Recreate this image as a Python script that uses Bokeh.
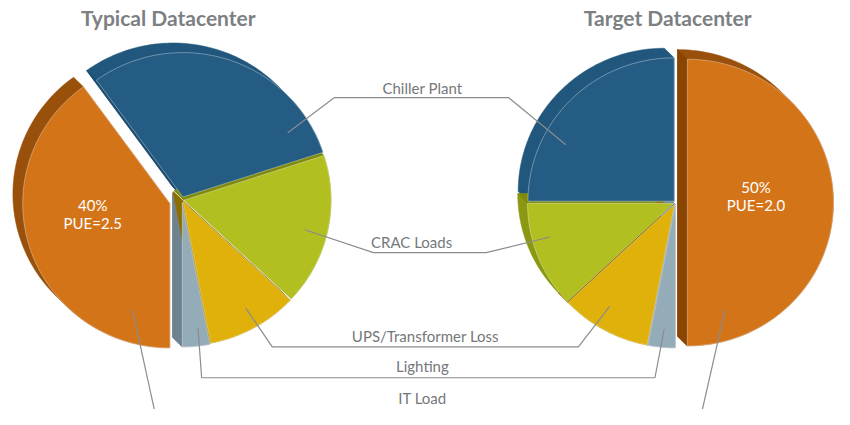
import math
import numpy as np
from bokeh.plotting import figure
from bokeh.models import Range1d
from bokeh.embed import file_html
from bokeh.resources import INLINE
from bokeh.core.properties import value

# ---------------- data ----------------
categories = ["Chiller Plant", "CRAC Loads", "UPS/Transformer Loss", "Lighting", "IT Load"]
typical_share = [30, 17, 10, 3, 40]   # percent
target_share = [25, 12, 10, 3, 50]    # percent
pie_titles = ["Typical Datacenter", "Target Datacenter"]

# ---------------- style / layout ----------------
front_colors = ["#255C83", "#B1BF21", "#E0B10B", "#94ABB8", "#D47419"]
rim_colors   = ["#21577C", "#8C9812", "#A58400", "#7C919E", "#98500A"]
side_colors  = ["#1C4C6E", "#7E8A0D", "#8C6D00", "#6E8390", "#8A4500"]
DEPTH = (-10.0, -10.0)          # projection of slice thickness (screen px)
FONT = "Lato"
TEXT_GREY = "#75787B"
LINE_GREY = "#8A8C8F"

pies = [
    dict(shares=typical_share, cx=185, cy=207, r=150, start=126, direction=-1,
         explode=[3, 2, 2, 3, 13], title_xy=(171, 18), pct_xy=(94, 212),
         anchors=[(32, 126), (-14, 127), (-60, 128), (-83, 131), (251, 117)]),
    dict(shares=target_share, cx=688, cy=210, r=149, start=90, direction=1,
         explode=[2, 2, 2, 2, 12], title_xy=(680, 18), pct_xy=(770, 194),
         anchors=[(152, 125), (195.5, 131), (238, 125), (265, 130), (-71, 118)]),
]
# label positions and leader elbows (left elbow, right elbow)
label_xy = [(430, 91), (419, 251), (433, 349), (430, 380), (430, 413)]
elbows = [[(340, 101), (518, 101)], [(380, 262), (495, 262)],
          [(277, 360), (589, 360)], [(205, 392), (667, 392)], None]
it_tail = [(160, 440), (712, 440)]


def pt(ax, ay, r, a_deg):
    a = math.radians(a_deg)
    return (ax + r * math.cos(a), ay - r * math.sin(a))


def hull(points):
    pts = sorted(set((round(x, 3), round(y, 3)) for x, y in points))
    if len(pts) <= 2:
        return pts

    def cross(o, a, b):
        return (a[0] - o[0]) * (b[1] - o[1]) - (a[1] - o[1]) * (b[0] - o[0])
    lower, upper = [], []
    for p_ in pts:
        while len(lower) >= 2 and cross(lower[-2], lower[-1], p_) <= 0:
            lower.pop()
        lower.append(p_)
    for p_ in reversed(pts):
        while len(upper) >= 2 and cross(upper[-2], upper[-1], p_) <= 0:
            upper.pop()
        upper.append(p_)
    return lower[:-1] + upper[:-1]


p = figure(width=834, height=409, output_backend="svg", toolbar_location=None,
           x_range=Range1d(0, 850), y_range=Range1d(425, 0),
           x_axis_location=None, y_axis_location=None, min_border=0,
           background_fill_color="white", border_fill_color="white")
p.grid.visible = False
p.outline_line_color = None

dx, dy = DEPTH
back_jobs = []   # (sort key, list of (xs, ys, color))
fronts = []
anchor_pts = [[None] * 5 for _ in pies]

for k, pie in enumerate(pies):
    cum = 0.0
    for i, share in enumerate(pie["shares"]):
        a0 = pie["start"] + pie["direction"] * cum * 3.6
        a1 = a0 + pie["direction"] * share * 3.6
        cum += share
        mid = (a0 + a1) / 2
        ax, ay = pt(pie["cx"], pie["cy"], pie["explode"][i], mid)
        angs = np.linspace(a0, a1, max(8, int(abs(a1 - a0) / 1.5)))
        arc = [pt(ax, ay, pie["r"], a) for a in angs]
        front = [(ax, ay)] + arc
        back = [(x + dx, y + dy) for x, y in front]
        h = hull(front + back)
        shapes = [([q[0] for q in h], [q[1] for q in h], rim_colors[i])]
        cxm, cym = pt(ax, ay, pie["r"] * 0.5, mid)
        for P, Q in [((ax, ay), arc[0]), (arc[-1], (ax, ay))]:
            ex, ey = Q[0] - P[0], Q[1] - P[1]
            nx, ny = -ey, ex
            if nx * (cxm - P[0]) + ny * (cym - P[1]) > 0:
                nx, ny = -nx, -ny
            if nx * dx + ny * dy > 0:
                shapes.append(([P[0], Q[0], Q[0] + dx, P[0] + dx],
                               [P[1], Q[1], Q[1] + dy, P[1] + dy], side_colors[i]))
        md = (math.cos(math.radians(mid)), -math.sin(math.radians(mid)))
        key = -(md[0] * dx + md[1] * dy)
        back_jobs.append((key, shapes))
        fronts.append(([q[0] for q in front], [q[1] for q in front], front_colors[i]))
        aang, arad = pie["anchors"][i]
        anchor_pts[k][i] = pt(ax, ay, arad, aang)

back_jobs.sort(key=lambda t: t[0])
bx, by, bc = [], [], []
for _, shapes in back_jobs:
    for xs, ys, c in shapes:
        bx.append(xs); by.append(ys); bc.append(c)
p.patches(bx, by, fill_color=bc, line_color=bc, line_width=0.5)

p.patches([f[0] for f in fronts], [f[1] for f in fronts],
          fill_color=[f[2] for f in fronts], line_color="white", line_alpha=0.35, line_width=1)

# leader lines
lx, ly = [], []
for i in range(5):
    L = anchor_pts[0][i]
    R = anchor_pts[1][i]
    if elbows[i] is not None:
        pts_ = [L, elbows[i][0], elbows[i][1], R]
        lx.append([q[0] for q in pts_]); ly.append([q[1] for q in pts_])
    else:
        for A, B in [(L, it_tail[0]), (R, it_tail[1])]:
            lx.append([A[0], B[0]]); ly.append([A[1], B[1]])
p.multi_line(lx, ly, line_color=LINE_GREY, line_width=1.2)

# category labels
p.text([q[0] for q in label_xy], [q[1] for q in label_xy], text=categories,
       text_align="center", text_baseline="middle", text_color=TEXT_GREY,
       text_font=value(FONT), text_font_size="15px")

# titles
p.text([pie["title_xy"][0] for pie in pies], [pie["title_xy"][1] for pie in pies], text=pie_titles,
       text_align="center", text_baseline="middle", text_color="#7D8083",
       text_font=value(FONT), text_font_size="21px", text_font_style="bold")

# IT share / PUE labels
pct_txt, pue_txt, px_, py_ = [], [], [], []
for pie in pies:
    it = pie["shares"][categories.index("IT Load")]
    pct_txt.append(f"{it}%")
    pue_txt.append(f"PUE={100 / it:.1f}")
    px_.append(pie["pct_xy"][0]); py_.append(pie["pct_xy"][1])
p.text(px_, py_, text=pct_txt, text_align="center", text_baseline="middle",
       text_color="white", text_font=value(FONT), text_font_size="15px")
p.text(px_, [y + 19 for y in py_], text=pue_txt, text_align="center", text_baseline="middle",
       text_color="white", text_font=value(FONT), text_font_size="15px")

open("out.html", "w").write(file_html(p, INLINE))
